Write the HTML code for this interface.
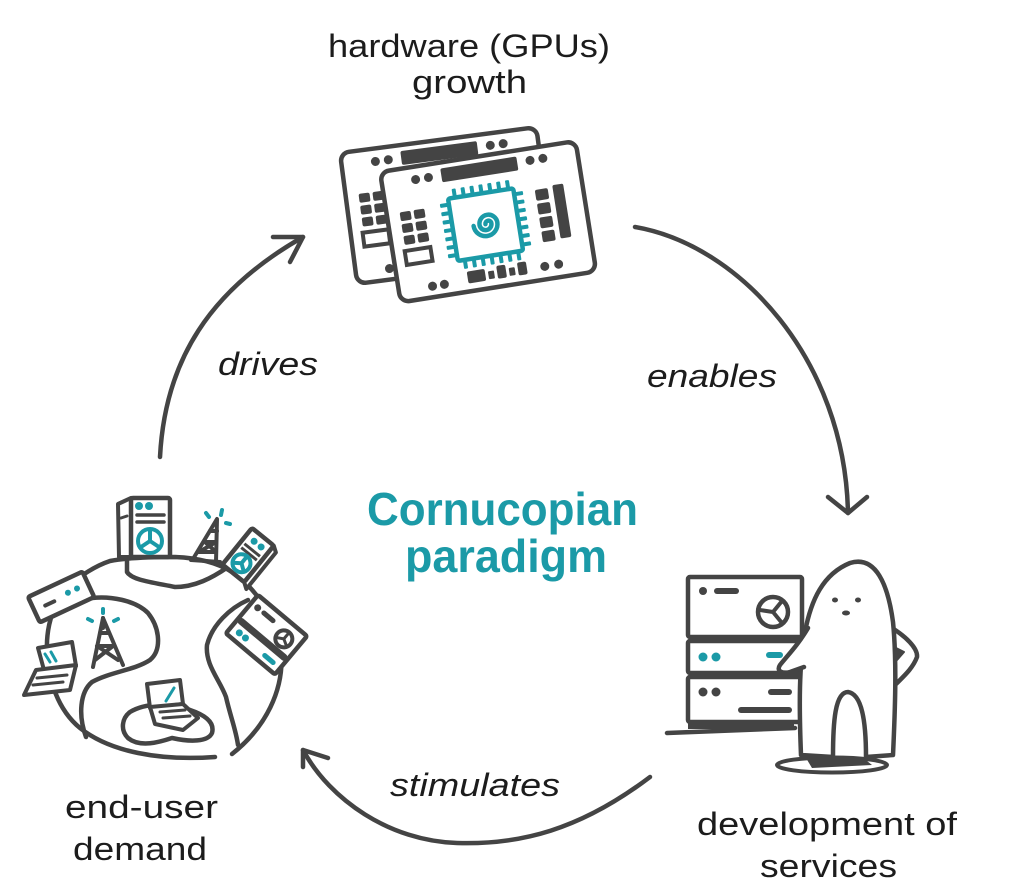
<!DOCTYPE html>
<html><head><meta charset="utf-8">
<style>
html,body{margin:0;padding:0;background:#fff;}
svg{display:block;}
</style></head>
<body>
<svg width="1024" height="894" viewBox="0 0 1024 894" xmlns="http://www.w3.org/2000/svg">
<rect width="1024" height="894" fill="#fff"/>

<!-- ============ LABELS ============ -->
<g font-family="'Liberation Sans', Arial, sans-serif" fill="#1c1c1c" font-size="32">
  <text x="328" y="57" textLength="282" lengthAdjust="spacingAndGlyphs">hardware (GPUs)</text>
  <text x="412" y="93" textLength="115" lengthAdjust="spacingAndGlyphs">growth</text>
  <text x="65" y="818" textLength="153" lengthAdjust="spacingAndGlyphs">end-user</text>
  <text x="73" y="860" textLength="134" lengthAdjust="spacingAndGlyphs">demand</text>
  <text x="697" y="835" textLength="260" lengthAdjust="spacingAndGlyphs">development of</text>
  <text x="760" y="877" textLength="137" lengthAdjust="spacingAndGlyphs">services</text>
  <g font-style="italic">
    <text x="218" y="375" textLength="100" lengthAdjust="spacingAndGlyphs">drives</text>
    <text x="647" y="387" textLength="130" lengthAdjust="spacingAndGlyphs">enables</text>
    <text x="390" y="796" textLength="170" lengthAdjust="spacingAndGlyphs">stimulates</text>
  </g>
</g>
<g font-family="'Liberation Sans', Arial, sans-serif" fill="#1b9aa7" font-size="46" font-weight="bold">
  <text x="367" y="525" textLength="271" lengthAdjust="spacingAndGlyphs">Cornucopian</text>
  <text x="405" y="572" textLength="202" lengthAdjust="spacingAndGlyphs">paradigm</text>
</g>

<!-- ============ ARROWS ============ -->
<g stroke="#444" stroke-width="4.5" fill="none" stroke-linecap="round" stroke-linejoin="round">
  <path d="M160,457 C165,360 210,290 303,237"/>
  <path d="M273,237 L303,237 L290,262"/>
  <path d="M635,227 C740,245 845,360 848,513"/>
  <path d="M828,497 L848,513 L867,497"/>
  <path d="M650,777 C580,830 520,845 457,843 C390,841 330,800 303,750"/>
  <path d="M328,758 L303,750 L303,767"/>
</g>

<!-- ============ GPU CARDS ============ -->
<!-- back card -->
<g transform="translate(340,153) rotate(-7.5)">
  <rect x="0" y="0" width="198" height="132" rx="9" fill="#fff" stroke="#444" stroke-width="4.5"/>
  <g fill="#444">
    <circle cx="34" cy="13" r="4.5"/><circle cx="47" cy="13" r="4.5"/>
    <rect x="60" y="6" width="77" height="14" rx="2"/>
    <circle cx="150" cy="12" r="4.5"/><circle cx="163" cy="12" r="4.5"/>
    <rect x="13" y="43" width="11" height="9" rx="2"/><rect x="27" y="43" width="11" height="9" rx="2"/>
    <rect x="13" y="55" width="11" height="9" rx="2"/><rect x="27" y="55" width="11" height="9" rx="2"/>
    <rect x="13" y="67" width="11" height="9" rx="2"/><rect x="27" y="67" width="11" height="9" rx="2"/>
    <circle cx="34" cy="121" r="4.5"/><circle cx="46" cy="121" r="4.5"/>
  </g>
  <rect x="12" y="82" width="26" height="14" fill="none" stroke="#444" stroke-width="4"/>
</g>
<!-- front card -->
<g transform="translate(380,172) rotate(-9)">
  <rect x="0" y="0" width="198" height="132" rx="9" fill="#fff" stroke="#444" stroke-width="4.5"/>
  <g fill="#444">
    <circle cx="34" cy="13" r="4.5"/><circle cx="47" cy="13" r="4.5"/>
    <rect x="60" y="6" width="77" height="14" rx="2"/>
    <circle cx="150" cy="12" r="4.5"/><circle cx="163" cy="12" r="4.5"/>
    <rect x="13" y="43" width="11" height="9" rx="2"/><rect x="27" y="43" width="11" height="9" rx="2"/>
    <rect x="13" y="55" width="11" height="9" rx="2"/><rect x="27" y="55" width="11" height="9" rx="2"/>
    <rect x="13" y="67" width="11" height="9" rx="2"/><rect x="27" y="67" width="11" height="9" rx="2"/>
    <rect x="150" y="42" width="13" height="11" rx="2"/>
    <rect x="150" y="56" width="13" height="11" rx="2"/>
    <rect x="150" y="70" width="13" height="11" rx="2"/>
    <rect x="150" y="84" width="13" height="11" rx="2"/>
    <rect x="168" y="40" width="11" height="54" rx="2"/>
    <rect x="70" y="112" width="18" height="12" rx="2"/>
    <rect x="91" y="115" width="6" height="8" rx="1"/>
    <rect x="100" y="111" width="9" height="13" rx="2"/>
    <rect x="112" y="115" width="6" height="8" rx="1"/>
    <rect x="121" y="111" width="9" height="13" rx="2"/>
    <circle cx="34" cy="121" r="4.5"/><circle cx="46" cy="121" r="4.5"/>
    <circle cx="148" cy="119" r="4.5"/><circle cx="162" cy="119" r="4.5"/>
  </g>
  <rect x="12" y="82" width="26" height="14" fill="none" stroke="#444" stroke-width="4"/>
  <!-- chip -->
  <g fill="#1b9aa7">
    <rect x="68" y="28" width="4" height="10" rx="1"/><rect x="77" y="28" width="4" height="10" rx="1"/>
    <rect x="86" y="28" width="4" height="10" rx="1"/><rect x="95" y="28" width="4" height="10" rx="1"/>
    <rect x="104" y="28" width="4" height="10" rx="1"/><rect x="113" y="28" width="4" height="10" rx="1"/>
    <rect x="122" y="28" width="4" height="10" rx="1"/>
    <rect x="68" y="99" width="4" height="10" rx="1"/><rect x="77" y="99" width="4" height="10" rx="1"/>
    <rect x="86" y="99" width="4" height="10" rx="1"/><rect x="95" y="99" width="4" height="10" rx="1"/>
    <rect x="104" y="99" width="4" height="10" rx="1"/><rect x="113" y="99" width="4" height="10" rx="1"/>
    <rect x="122" y="99" width="4" height="10" rx="1"/>
    <rect x="54" y="41" width="10" height="4" rx="1"/><rect x="54" y="49.5" width="10" height="4" rx="1"/>
    <rect x="54" y="58" width="10" height="4" rx="1"/><rect x="54" y="66.5" width="10" height="4" rx="1"/>
    <rect x="54" y="75" width="10" height="4" rx="1"/><rect x="54" y="83.5" width="10" height="4" rx="1"/>
    <rect x="54" y="92" width="10" height="4" rx="1"/>
    <rect x="128" y="41" width="10" height="4" rx="1"/><rect x="128" y="49.5" width="10" height="4" rx="1"/>
    <rect x="128" y="58" width="10" height="4" rx="1"/><rect x="128" y="66.5" width="10" height="4" rx="1"/>
    <rect x="128" y="75" width="10" height="4" rx="1"/><rect x="128" y="83.5" width="10" height="4" rx="1"/>
    <rect x="128" y="92" width="10" height="4" rx="1"/>
  </g>
  <rect x="63" y="37" width="66" height="63" rx="2" fill="#fff" stroke="#1b9aa7" stroke-width="4.5"/>
  <path d="M96,68 A3,3 0 0 1 102,68 A6,6 0 0 1 90,68 A9,9 0 0 1 108,68 A12,12 0 0 1 84,68" fill="none" stroke="#1b9aa7" stroke-width="4.5" stroke-linecap="round"/>
</g>

<!-- ============ GLOBE ============ -->
<g stroke="#444" stroke-width="4.5" fill="none" stroke-linecap="round" stroke-linejoin="round">
  <path d="M215,757 C160,761 110,752 80,728 C58,710 48,680 47,650 C46,625 55,598 70,585 C80,576 95,566 110,561 C125,558 150,557 175,557 C200,558 218,563 232,572 C255,588 275,615 281,650 C285,690 265,728 232,754"/>
  <path d="M127,558 L127,572 C132,580 150,582 175,587 C195,587 212,578 228,567"/>
  <path d="M92,598 C110,596 135,600 148,613 C160,628 162,650 150,660 C135,670 110,672 92,682 C80,692 78,715 86,737"/>
  <path d="M248,600 C230,608 212,625 207,645 C205,665 220,680 226,697 C230,715 236,730 238,745"/>
  <path d="M130,712 C145,703 170,702 190,710 C205,715 215,722 212,733 C208,742 190,742 172,738 C160,742 140,748 128,738 C120,730 122,718 130,712 Z"/>
</g>

<!-- tower server top -->
<g stroke="#444" stroke-width="4" stroke-linejoin="round" stroke-linecap="round">
  <polygon points="118,504 131,498 131,557 119,557" fill="#fff"/>
  <rect x="131" y="498" width="39" height="59" rx="2" fill="#fff" stroke-width="4.5"/>
  <line x1="137" y1="515" x2="164" y2="515" stroke-width="3.5"/>
  <line x1="137" y1="522" x2="164" y2="522" stroke-width="3.5"/>
  <line x1="121" y1="518" x2="127" y2="516" stroke-width="3"/>
</g>
<g fill="#1b9aa7"><circle cx="139" cy="506" r="4"/><circle cx="149" cy="506" r="4"/></g>
<g stroke="#1b9aa7" stroke-width="4" fill="none" stroke-linecap="round">
  <circle cx="150" cy="541" r="12"/>
  <path d="M150,541 L150,530 M150,541 L141,547 M150,541 L159,547"/>
</g>

<!-- cell tower top -->
<g stroke="#444" stroke-width="4" fill="none" stroke-linecap="round" stroke-linejoin="round">
  <path d="M193,559 L217,519 L216,562"/>
  <path d="M210,531 L217,531 M204,542 L216,542 M198,552 L216,552 M205,542 L216,552 M216,542 L199,552"/>
  <line x1="191" y1="560" x2="220" y2="562"/>
</g>
<g stroke="#1b9aa7" stroke-width="4" stroke-linecap="round">
  <line x1="206" y1="513" x2="209" y2="517"/>
  <line x1="222" y1="510" x2="221" y2="515"/>
  <line x1="226" y1="523" x2="230" y2="524"/>
</g>

<!-- tower server top-right (tilted) -->
<g transform="translate(252,528) rotate(39)" stroke="#444" stroke-width="4" stroke-linejoin="round">
  <polygon points="28,0 34,4 34,51 28,47" fill="#fff"/>
  <rect x="0" y="0" width="28" height="47" rx="2" fill="#fff" stroke-width="4.5"/>
  <line x1="4" y1="17" x2="24" y2="17" stroke-width="3"/>
  <line x1="4" y1="22" x2="24" y2="22" stroke-width="3"/>
  <circle cx="10" cy="9" r="3.5" fill="#1b9aa7" stroke="none"/>
  <circle cx="19" cy="9" r="3.5" fill="#1b9aa7" stroke="none"/>
  <circle cx="14" cy="34" r="9" fill="none" stroke="#1b9aa7"/>
  <path d="M14,34 L14,25 M14,34 L7,39 M14,34 L21,39" stroke="#1b9aa7" stroke-linecap="round"/>
</g>

<!-- 2U server right (tilted) -->
<g transform="translate(258,595) rotate(40)" stroke="#444" stroke-width="4" stroke-linecap="round">
  <rect x="0" y="0" width="64" height="50" rx="2" fill="#fff" stroke-width="4.5"/>
  <circle cx="8" cy="10" r="3.5" fill="#444" stroke="none"/>
  <line x1="16" y1="10" x2="28" y2="10" stroke-width="5"/>
  <circle cx="48" cy="17" r="8.5" fill="none"/>
  <path d="M48,17 L48,9 M48,17 L41,21 M48,17 L55,21" stroke-width="3"/>
  <line x1="4" y1="31" x2="60" y2="31" stroke-width="7"/>
  <circle cx="10" cy="41" r="3.5" fill="#1b9aa7" stroke="none"/>
  <circle cx="18" cy="41" r="3.5" fill="#1b9aa7" stroke="none"/>
  <line x1="44" y1="42" x2="55" y2="42" stroke="#1b9aa7" stroke-width="5"/>
</g>

<!-- rack server left -->
<g transform="translate(28,597) rotate(-25)" stroke="#444" stroke-width="4" stroke-linecap="round">
  <rect x="0" y="0" width="60" height="28" rx="2" fill="#fff" stroke-width="4.5"/>
  <line x1="12" y1="15" x2="22" y2="15"/>
  <circle cx="38" cy="13" r="3" fill="#1b9aa7" stroke="none"/>
  <circle cx="48" cy="13" r="3" fill="#1b9aa7" stroke="none"/>
</g>

<!-- cell tower left -->
<g stroke="#444" stroke-width="4" fill="none" stroke-linecap="round" stroke-linejoin="round">
  <path d="M93,667 L103,618 L123,665"/>
  <path d="M100,633 L108,633 M97,646 L113,646 M97,646 L118,660 M113,646 L95,660"/>
  <line x1="103" y1="618" x2="103" y2="628"/>
</g>
<g stroke="#1b9aa7" stroke-width="4" stroke-linecap="round">
  <line x1="88" y1="619" x2="92" y2="621"/>
  <line x1="103" y1="609" x2="103" y2="613"/>
  <line x1="114" y1="621" x2="118" y2="619"/>
</g>

<!-- laptop left -->
<g stroke="#444" stroke-width="4" stroke-linejoin="round" stroke-linecap="round">
  <polygon points="38,648 72,642 76,666 44,670" fill="#fff"/>
  <polygon points="36,670 76,665 70,690 24,695" fill="#fff"/>
  <line x1="37" y1="678" x2="67" y2="675" stroke-width="3"/>
  <line x1="33" y1="685" x2="63" y2="682" stroke-width="3"/>
  <line x1="45" y1="654" x2="50" y2="662" stroke="#1b9aa7" stroke-width="3"/>
  <line x1="51" y1="652" x2="56" y2="661" stroke="#1b9aa7" stroke-width="3"/>
</g>

<!-- laptop bottom -->
<g stroke="#444" stroke-width="4" stroke-linejoin="round" stroke-linecap="round">
  <polygon points="147,684 180,680 183,704 150,708" fill="#fff"/>
  <polygon points="150,707 183,704 198,718 183,730 155,724" fill="#fff"/>
  <line x1="160" y1="712" x2="185" y2="710" stroke-width="3"/>
  <line x1="163" y1="718" x2="190" y2="716" stroke-width="3"/>
  <line x1="166" y1="701" x2="174" y2="688" stroke="#1b9aa7" stroke-width="3"/>
</g>

<!-- ============ SERVER STACK + PERSON ============ -->
<g stroke="#444" stroke-width="4.5" stroke-linecap="round" stroke-linejoin="round">
  <line x1="667" y1="733" x2="795" y2="728" stroke-width="4.5"/>
  <rect x="688" y="720" width="106" height="9" fill="#444" stroke="none"/>
  <rect x="688" y="577" width="114" height="60" rx="2" fill="#fff"/>
  <rect x="688" y="641" width="114" height="32" rx="2" fill="#fff"/>
  <rect x="688" y="677" width="114" height="45" rx="2" fill="#fff"/>
  <circle cx="703" cy="591" r="4" fill="#444" stroke="none"/>
  <line x1="717" y1="591" x2="736" y2="591" stroke-width="6"/>
  <circle cx="773" cy="612" r="15" fill="none"/>
  <path d="M773,612 L760,610 M773,612 L782,601 M773,612 L782,623" stroke-width="4"/>
  <circle cx="703" cy="657" r="4.5" fill="#1b9aa7" stroke="none"/>
  <circle cx="716" cy="657" r="4.5" fill="#1b9aa7" stroke="none"/>
  <line x1="769" y1="655" x2="780" y2="655" stroke="#1b9aa7" stroke-width="6"/>
  <circle cx="703" cy="692" r="4.5" fill="#444" stroke="none"/>
  <circle cx="716" cy="692" r="4.5" fill="#444" stroke="none"/>
  <line x1="771" y1="692" x2="789" y2="692" stroke-width="6"/>
  <line x1="741" y1="710" x2="789" y2="710" stroke-width="6"/>

  <!-- shadow -->
  <ellipse cx="832" cy="765" rx="55" ry="7.5" fill="none" stroke-width="4"/>
  <path d="M806,758 L862,757 L872,765 L812,768 Z" fill="#444" stroke="none"/>

  <!-- right arm -->
  <path d="M892,628 C905,636 918,648 917,657 C913,668 904,676 896,684" fill="none"/>
  <!-- body -->
  <path d="M801,755 C799,705 799,665 805,632 C811,600 823,574 850,563 C876,555 888,585 893,622 C897,662 895,712 893,755 L866,757 C866,722 862,694 848,692 C835,692 833,722 833,757 Z" fill="#fff"/>
  <path d="M896,648 L904,652 L897,660 Z" fill="#444" stroke-width="2"/>
  <!-- left arm -->
  <path d="M808,628 C798,645 788,655 780,665 C776,671 782,674 790,672 L804,667" fill="#fff"/>
  <!-- face -->
  <ellipse cx="835" cy="600" rx="3" ry="2.5" fill="#444" stroke="none"/>
  <ellipse cx="858" cy="600" rx="3" ry="2.5" fill="#444" stroke="none"/>
  <ellipse cx="846" cy="613" rx="4" ry="2.5" fill="#444" stroke="none"/>
</g>

</svg>
</body>
</html>
